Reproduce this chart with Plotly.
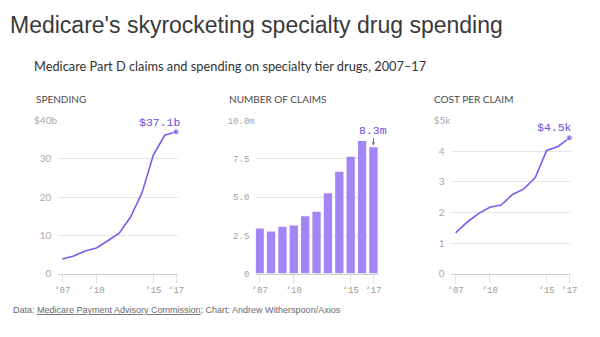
import plotly.graph_objects as go

years = [2007, 2008, 2009, 2010, 2011, 2012, 2013, 2014, 2015, 2016, 2017]
spending_b = [3.8, 4.6, 5.9, 6.7, 8.6, 10.6, 14.8, 21.1, 31.0, 36.2, 37.1]
claims_m = [2.95, 2.75, 3.06, 3.14, 3.75, 4.05, 5.26, 6.67, 7.65, 8.68, 8.26]
cost_k = [1.33, 1.68, 1.96, 2.17, 2.24, 2.59, 2.77, 3.14, 4.03, 4.16, 4.44]

x_tickvals = [2007, 2010, 2015, 2017]
x_ticktext = ["\u201807", "\u201810", "\u201815", "\u201817"]

sp_ticks = [0, 10, 20, 30, 40]
sp_text = ["0\u2007", "10\u2007", "20\u2007", "30\u2007", "$40b"]
cl_ticks = [0, 2.5, 5, 7.5, 10]
cl_text = ["0\u00a0", "2.5\u00a0", "5.0\u00a0", "7.5\u00a0", "10.0m"]
co_ticks = [0, 1, 2, 3, 4, 5]
co_text = ["0\u2007", "1\u2007", "2\u2007", "3\u2007", "4\u2007", "$5k"]

TITLE = "Medicare's skyrocketing specialty drug spending"
SUBTITLE = "Medicare Part D claims and spending on specialty tier drugs, 2007\u201317"
PANELS = ["SPENDING", "NUMBER OF CLAIMS", "COST PER CLAIM"]
FOOTER = ("Data: <u>Medicare Payment Advisory Commission</u>; "
          "Chart: Andrew Witherspoon/Axios")

W, H = 600, 337
def px(p): return p / W
def py(p): return 1 - p / H

LINE = "#7a5cf0"
BAR = "#a385f6"
ANN = "#6a50d8"
MONO = "Liberation Mono"
SANS = "Lato"

ydom = [py(277.3), py(118.3)]
last_sizes = [0] * (len(years) - 1) + [6]

fig = go.Figure()
fig.add_trace(go.Scatter(x=years, y=spending_b, mode="lines+markers",
                         line=dict(color=LINE, width=1.6),
                         marker=dict(size=last_sizes, color=LINE),
                         xaxis="x", yaxis="y", cliponaxis=False, hoverinfo="skip"))
fig.add_trace(go.Bar(x=years, y=claims_m, marker=dict(color=BAR, line=dict(width=0)),
                     xaxis="x2", yaxis="y2", hoverinfo="skip"))
fig.add_trace(go.Scatter(x=years, y=cost_k, mode="lines+markers",
                         line=dict(color=LINE, width=1.6),
                         marker=dict(size=last_sizes, color=LINE),
                         xaxis="x3", yaxis="y3", cliponaxis=False, hoverinfo="skip"))

def xax(dom, rng, anchor):
    return dict(domain=[px(dom[0]), px(dom[1])], range=rng, anchor=anchor,
                tickvals=x_tickvals, ticktext=x_ticktext, showgrid=False,
                zeroline=False, showline=True, linecolor="#cfcfcf", linewidth=1,
                ticks="outside", ticklen=8, tickcolor="#e2e2e2", tickwidth=1,
                tickfont=dict(family=MONO, size=9, color="#9a9a9a"), fixedrange=True)

def yax(rng, tv, tt, anchor, font):
    return dict(domain=ydom, range=rng, anchor=anchor, tickvals=tv, ticktext=tt,
                showgrid=True, gridcolor="#e6e6e6", gridwidth=1, zeroline=False,
                showline=False, ticks="", tickfont=font, fixedrange=True)

fig.update_layout(
    width=W, height=H, margin=dict(l=0, r=0, t=0, b=0),
    paper_bgcolor="white", plot_bgcolor="white", showlegend=False, bargap=0.27,
    xaxis=xax([55, 177], [2006.628, 2017.173], "y"),
    yaxis=yax([0, 40], sp_ticks, sp_text, "x", dict(family=SANS, size=10, color="#a8a8a8")),
    xaxis2=xax([256, 381], [2006.654, 2017.458], "y2"),
    yaxis2=yax([0, 10], cl_ticks, cl_text, "x2", dict(family=MONO, size=9, color="#a0a0a0")),
    xaxis3=xax([455, 577], [2006.628, 2017.173], "y3"),
    yaxis3=yax([0, 5], co_ticks, co_text, "x3", dict(family=SANS, size=10, color="#a8a8a8")),
)

anns = [
    dict(text=TITLE, x=px(4), y=py(19), xanchor="left", yanchor="middle",
         font=dict(family="Liberation Sans", size=23, color="#3a3a3a")),
    dict(text=SUBTITLE, x=px(28), y=py(61), xanchor="left", yanchor="middle",
         font=dict(family=SANS, size=12.8, color="#333333")),
    dict(text=PANELS[0], x=px(31), y=py(96), xanchor="left", yanchor="middle",
         font=dict(family=SANS, size=10, color="#4a4a4a")),
    dict(text=PANELS[1], x=px(227), y=py(96), xanchor="left", yanchor="middle",
         font=dict(family=SANS, size=10, color="#4a4a4a")),
    dict(text=PANELS[2], x=px(435), y=py(96), xanchor="left", yanchor="middle",
         font=dict(family=SANS, size=10, color="#4a4a4a")),
    dict(text=FOOTER, x=px(7), y=py(315), xanchor="left", yanchor="middle",
         font=dict(family="Liberation Sans", size=9, color="#6a6a6a")),
]
for a in anns:
    a.update(xref="paper", yref="paper", showarrow=False)

anns += [
    dict(text="$%.1fb" % spending_b[-1], x=years[-1], y=spending_b[-1], xref="x", yref="y",
         xanchor="right", yanchor="middle", xshift=7, yshift=9, showarrow=False,
         font=dict(family=MONO, size=11.5, color=ANN)),
    dict(text="%.1fm" % claims_m[-1], x=years[-1], y=claims_m[-1], xref="x2", yref="y2",
         showarrow=True, ax=0, ay=-17, arrowhead=2, arrowsize=0.6, arrowwidth=1,
         arrowcolor="#666666", standoff=2,
         font=dict(family=MONO, size=11.5, color=ANN)),
    dict(text="$%.1fk" % 4.5, x=years[-1], y=cost_k[-1], xref="x3", yref="y3",
         xanchor="right", yanchor="middle", xshift=5, yshift=10, showarrow=False,
         font=dict(family=MONO, size=11.5, color=ANN)),
]
fig.update_layout(annotations=anns)

fig.write_html("out.html")
